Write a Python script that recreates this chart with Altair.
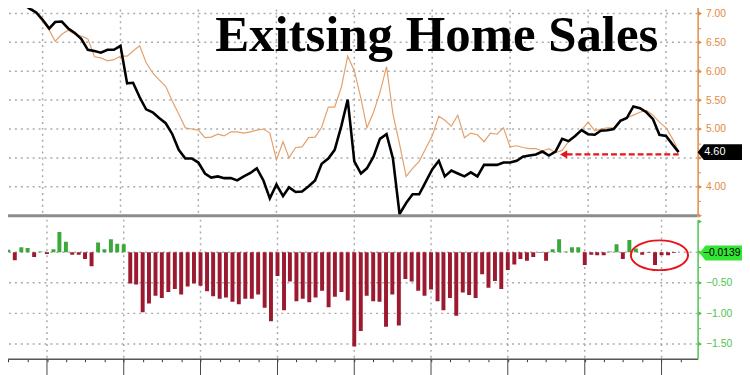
import altair as alt
import pandas as pd

# ---------------- data ----------------
months = pd.date_range("2005-07-01", "2014-03-01", freq="MS").strftime("%Y-%m-%d").tolist()

actual = [
    7.15, 7.20, 7.22, 7.17, 7.08, 7.02, 6.89, 6.74, 6.85, 6.86,
    6.74, 6.66, 6.56, 6.37, 6.35, 6.32, 6.37, 6.37, 6.44, 5.79,
    5.80, 5.55, 5.34, 5.29, 5.19, 5.10, 4.91, 4.64, 4.49, 4.49,
    4.42, 4.23, 4.16, 4.18, 4.15, 4.15, 4.11, 4.18, 4.24, 4.32,
    4.11, 3.80, 4.04, 3.84, 3.99, 3.91, 3.92, 4.01, 4.11, 4.40,
    4.49, 4.64, 5.05, 5.51, 4.44, 4.23, 4.32, 4.52, 4.83, 4.91,
    4.49, 3.53, 3.72, 3.87, 3.87, 4.08, 4.30, 4.45, 4.18, 4.28,
    4.23, 4.18, 4.25, 4.18, 4.38, 4.38, 4.38, 4.42, 4.42, 4.45,
    4.52, 4.54, 4.56, 4.61, 4.54, 4.61, 4.83, 4.79, 4.88, 4.98,
    4.91, 4.90, 4.97, 4.98, 5.00, 5.14, 5.19, 5.39, 5.36, 5.29,
    5.17, 4.90, 4.88, 4.73, 4.60,
]

expected = [
    7.11, 7.33, 7.16, 7.14, 7.15, 7.00, 6.86, 6.71, 6.52, 6.64,
    6.71, 6.64, 6.61, 6.56, 6.25, 6.23, 6.18, 6.20, 6.26, 6.26,
    6.35, 6.44, 6.15, 5.97, 5.85, 5.74, 5.48, 5.26, 5.02, 5.00,
    4.98, 4.85, 4.86, 4.91, 4.88, 4.95, 4.95, 4.93, 4.95, 4.98,
    5.00, 4.93, 4.47, 4.78, 4.50, 4.68, 4.69, 4.85, 4.86, 5.03,
    5.38, 5.38, 5.72, 6.26, 6.01, 5.53, 5.02, 5.29, 5.63, 6.08,
    5.26, 4.74, 4.18, 4.32, 4.44, 4.66, 4.88, 5.22, 5.15, 5.05,
    5.24, 4.85, 4.93, 4.90, 4.78, 4.93, 4.91, 5.02, 4.69, 4.71,
    4.68, 4.66, 4.66, 4.62, 4.66, 4.59, 4.63, 4.78, 4.88, 4.98,
    5.12, 4.97, 5.00, 5.02, 5.02, 5.15, 5.19, 5.24, 5.29, 5.32,
    5.24, 5.12, 5.02, 4.83, 4.61,
]

surprise = [
    0.04, -0.13, 0.08, 0.07, -0.08, 0.01, -0.03, 0.05, 0.33, 0.17,
    -0.04, -0.04, -0.11, -0.23, 0.16, 0.05, 0.21, 0.14, 0.13, -0.51,
    -0.53, -0.98, -0.84, -0.71, -0.75, -0.65, -0.60, -0.69, -0.56, -0.51,
    -0.55, -0.64, -0.72, -0.76, -0.74, -0.81, -0.85, -0.76, -0.76, -0.69,
    -0.91, -1.13, -0.39, -0.95, -0.48, -0.80, -0.76, -0.82, -0.74, -0.63,
    -0.90, -0.73, -0.65, -0.79, -1.54, -1.29, -0.71, -0.80, -0.81, -1.22,
    -0.69, -1.20, -0.44, -0.48, -0.63, -0.71, -0.61, -0.80, -0.95, -0.75,
    -1.04, -0.66, -0.70, -0.75, -0.36, -0.58, -0.47, -0.60, -0.29, -0.20,
    -0.11, -0.14, -0.08, -0.01, -0.14, 0.05, 0.21, 0.01, 0.08, 0.08,
    -0.21, -0.04, -0.05, -0.05, 0.01, 0.13, -0.11, 0.20, 0.06, -0.04,
    -0.01, -0.21, -0.05, -0.05, -0.0139,
]

year_starts = ["2006-01-01", "2007-01-01", "2008-01-01", "2009-01-01", "2010-01-01",
               "2011-01-01", "2012-01-01", "2013-01-01", "2014-01-01"]
quarters = [(2005, 7), (2005, 10)] + [(y, m) for y in range(2006, 2014) for m in (1, 4, 7, 10)] + [(2014, 1), (2014, 4)]
price_ticks = [3.75, 4.0, 4.25, 4.5, 4.75, 5.0, 5.25, 5.5, 5.75, 6.0, 6.25, 6.5, 6.75, 7.0]
price_major = [3.5, 4.0, 4.5, 5.0, 5.5, 6.0, 6.5, 7.0]
price_grid = [4.0, 4.5, 5.0, 5.5, 6.0, 6.5, 7.0]
diff_ticks = [-1.75, -1.5, -1.25, -1.0, -0.75, -0.5, -0.25, 0.0]
diff_major = [-1.5, -1.0, -0.5, 0.0, 0.5]
diff_grid = [-1.5, -1.0, -0.5, 0.0]

title_text = "Exitsing Home Sales"
arrow_tip = "2012-09-08"
arrow_start = "2012-09-22"
arrow_end = "2014-03-01"
arrow_level = 4.56
circle_at = "2013-12-22"
circle_level = -0.05

# ---------------- styles ----------------
ORANGE = "#e3893c"
ORANGE_LINE = "#e4a06a"
GREEN = "#4cc44c"
GREEN_TAG = "#33e633"
GREEN_BAR = "#3aa83a"
RED_BAR = "#9c1a30"
RED = "#e8141c"
GRID = "#aaaaaa"
FONT = "Liberation Sans"

df = pd.DataFrame({"month": months, "actual": actual, "expected": expected, "surprise": surprise})
years_df = pd.DataFrame({"yr": year_starts})

xscale = alt.Scale(domain=[alt.DateTime(year=2005, month=6, date=25),
                           alt.DateTime(year=2014, month=5, date=29)])

top_scale = alt.Scale(domain=[3.5, 7.17], nice=False)
bot_scale = alt.Scale(domain=[-1.742, 0.532], nice=False)

top_axis = alt.Axis(
    orient="right", values=price_ticks, title=None,
    labelExpr="datum.value % 0.5 == 0 && datum.value != 4.5 ? format(datum.value, '.2f') : ''",
    labelColor=ORANGE, labelFont=FONT, labelFontSize=10.5, labelPadding=5, labelOverlap=False,
    tickColor=ORANGE, tickSize=3, domainColor=ORANGE, domainWidth=1.5, grid=False,
)
bot_axis = alt.Axis(
    orient="right", values=diff_ticks, title=None,
    labelExpr="datum.value % 0.5 == 0 && datum.value < -0.25 ? format(datum.value, '.2f') : ''",
    labelColor=GREEN, labelFont=FONT, labelFontSize=10.5, labelPadding=5, labelOverlap=False,
    tickColor=GREEN, tickSize=3, domainColor=GREEN, domainWidth=1.5, grid=False,
)
bx_axis = alt.Axis(
    values=[alt.DateTime(year=y, month=m, date=1) for (y, m) in quarters], title=None,
    grid=False, tickSize=3, tickColor="#333333", domainColor="#555555", domainWidth=1.5,
    labelExpr="((month(datum.value) == 6 && year(datum.value) > 2005) || "
              "(year(datum.value) == 2005 && month(datum.value) == 9) || "
              "(year(datum.value) == 2014 && month(datum.value) == 3)) ? timeFormat(datum.value, '%Y') : ''",
    labelColor="#444444", labelFont=FONT, labelFontSize=11, labelPadding=12,
    labelOverlap=False, labelFlush=False, labelAngle=0,
)


def xtop(f):
    return alt.X(f, type="temporal", scale=xscale, axis=None, title=None)


def ytop(f):
    return alt.Y(f, type="quantitative", scale=top_scale, axis=top_axis, title=None)


def xb(f):
    return alt.X(f, type="temporal", scale=xscale, axis=bx_axis, title=None)


def yb(f):
    return alt.Y(f, type="quantitative", scale=bot_scale, axis=bot_axis, title=None)


grid_style = dict(color=GRID, strokeDash=[2, 4], strokeWidth=1.5)

# ---------------- top panel ----------------
vgrid_top = alt.Chart(years_df).mark_rule(**grid_style).encode(x=xtop("yr"))
hgrid_top = alt.Chart(pd.DataFrame({"v": price_grid})).mark_rule(**grid_style).encode(y=ytop("v"))
exp_line = alt.Chart(df).mark_line(color=ORANGE_LINE, strokeWidth=1.2, clip=True).encode(
    x=xtop("month"), y=ytop("expected"))
act_line = alt.Chart(df).mark_line(color="black", strokeWidth=2.6, clip=True).encode(
    x=xtop("month"), y=ytop("actual"))
sep = alt.Chart(pd.DataFrame({"v": [3.5]})).mark_rule(color="#8c8c8c", strokeWidth=3).encode(y=ytop("v"))

arrow_df = pd.DataFrame({"tip": [arrow_tip], "x0": [arrow_start], "x1": [arrow_end], "v": [arrow_level]})
arrow_line = alt.Chart(arrow_df).mark_rule(color=RED, strokeWidth=2.2, strokeDash=[6, 3]).encode(
    x=xtop("x0"), x2=alt.X2("x1"), y=ytop("v"))
arrow_head = alt.Chart(arrow_df).mark_point(shape="triangle-left", filled=True, size=70, color=RED,
                                            opacity=1).encode(x=xtop("tip"), y=ytop("v"))

title = alt.Chart(pd.DataFrame({"t": [title_text]})).mark_text(
    font="Liberation Serif", fontWeight="bold", fontSize=51.5, align="left", baseline="alphabetic",
    color="black").encode(x=alt.value(216), y=alt.value(48), text="t:N")

major_top = alt.Chart(pd.DataFrame({"v": price_major})).mark_point(
    shape="triangle-right", filled=True, size=18, color=ORANGE, opacity=1).encode(
    x=alt.value(707.5), y=ytop("v"))

tag_top_df = pd.DataFrame({"v": [actual[-1]]})
tag_top = alt.Chart(tag_top_df).mark_point(
    shape="M-1,0L-0.72,-0.36L1,-0.36L1,0.36L-0.72,0.36Z", size=2025, filled=True, color="black",
    opacity=1, strokeWidth=0).encode(x=alt.value(727.5), y=ytop("v"))
tag_top_text = alt.Chart(tag_top_df).mark_text(
    color="white", fontSize=11, font=FONT, align="center", baseline="middle").encode(
    x=alt.value(722.5), y=ytop("v"), text=alt.Text("v:Q", format=".2f"))

top = alt.layer(vgrid_top, hgrid_top, exp_line, act_line, sep, arrow_line, arrow_head, title,
                major_top, tag_top, tag_top_text).properties(width=705, height=215)

# ---------------- bottom panel ----------------
vgrid_bot = alt.Chart(years_df).mark_rule(**grid_style).encode(x=xb("yr"))
hgrid_bot = alt.Chart(pd.DataFrame({"v": diff_grid})).mark_rule(**grid_style).encode(y=yb("v"))
bars = alt.Chart(df).mark_bar(width=4, clip=True).encode(
    x=xb("month"), y=yb("surprise"),
    color=alt.condition("datum.surprise >= 0", alt.value(GREEN_BAR), alt.value(RED_BAR)))
year_ticks = alt.Chart(years_df).mark_rule(color="#444444", strokeWidth=1).encode(
    x=xb("yr"), y=alt.value(141), y2=alt.value(175))
ellipse = alt.Chart(pd.DataFrame({"x": [circle_at], "v": [circle_level]})).mark_point(
    shape="M-1,0A1,0.52,0,1,1,1,0A1,0.52,0,1,1,-1,0Z", size=3364, filled=False, color=RED,
    strokeWidth=2, opacity=1).encode(x=xb("x"), y=yb("v"))
major_bot = alt.Chart(pd.DataFrame({"v": diff_major})).mark_point(
    shape="triangle-right", filled=True, size=18, color=GREEN, opacity=1).encode(
    x=alt.value(707.5), y=yb("v"))
tag_bot_df = pd.DataFrame({"v": [surprise[-1]]})
tag_bot = alt.Chart(tag_bot_df).mark_point(
    shape="M-1,0L-0.72,-0.35L1,-0.35L1,0.35L-0.72,0.35Z", size=1849, filled=True, color=GREEN_TAG,
    opacity=1, strokeWidth=0).encode(x=alt.value(728.5), y=yb("v"))
tag_bot_text = alt.Chart(tag_bot_df).mark_text(
    color="black", fontSize=10.5, font=FONT, align="center", baseline="middle").encode(
    x=alt.value(729.5), y=yb("v"), text=alt.Text("v:Q", format=".4f"))

bottom = alt.layer(vgrid_bot, hgrid_bot, bars, year_ticks, ellipse, major_bot, tag_bot,
                   tag_bot_text).properties(width=705, height=141)

chart = alt.vconcat(top, bottom, spacing=0).properties(
    padding={"left": -8, "top": -8, "right": 0, "bottom": -16},
    background="white",
).configure_view(stroke=None)

chart.save("out.html", embed_options={"renderer": "svg", "actions": False})
